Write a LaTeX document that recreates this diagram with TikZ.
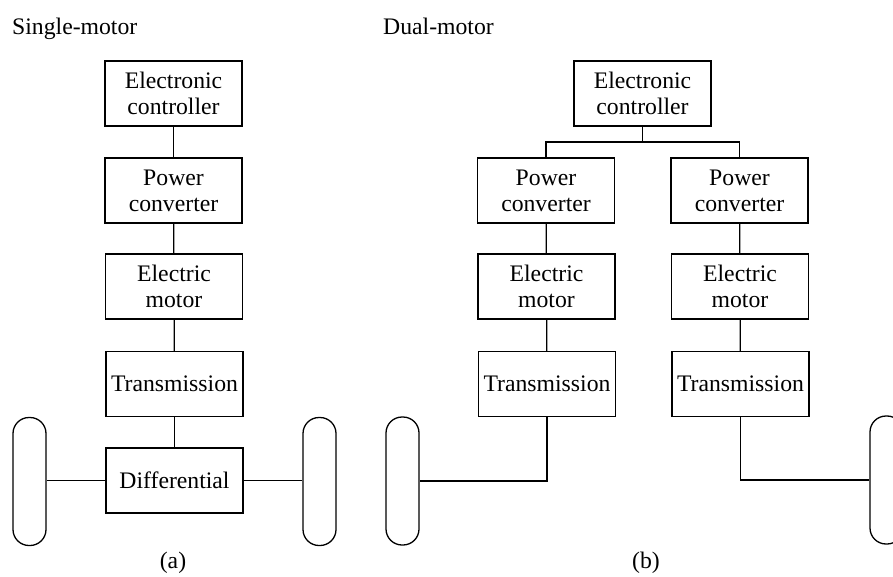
\documentclass[tikz,border=0pt]{standalone}
\usepackage{fontspec}
\setmainfont{Liberation Serif}
\begin{document}
\begin{tikzpicture}[x=1pt,y=-1pt,
  blk/.style={draw,line width=1.3pt,rectangle,minimum width=137pt,minimum height=65pt,inner sep=0pt,align=center,font=\fontsize{23.7}{26}\selectfont},
  wheel/.style={draw,line width=1.3pt,rectangle,rounded corners=16pt,minimum width=33pt,minimum height=128pt,inner sep=0pt},
  conn/.style={line width=1.3pt},
  lbl/.style={inner sep=0pt,font=\fontsize{23.7}{26}\selectfont}]
\useasboundingbox (0,0) rectangle (893,577);
\clip (0,0) rectangle (893,577);
% titles
\node[lbl,anchor=base west] (t1) at (12,35) {Single-motor};
\node[lbl,anchor=base west] (t2) at (383,35) {Dual-motor};
% (a) single motor
\node[blk] (ec1) at (173.5,93.5) {Electronic\\controller};
\node[blk] (pc1) at (173.5,190.5) {Power\\converter};
\node[blk] (em1) at (174,286.5) {Electric\\motor};
\node[blk] (tr1) at (174.5,384) {Transmission};
\node[blk] (df1) at (174.5,480.5) {Differential};
\node[wheel] (wl1) at (29.5,481.5) {};
\node[wheel] (wr1) at (319.5,481.5) {};
\draw[conn] (ec1) -- (pc1);
\draw[conn] (pc1) -- (em1);
\draw[conn] (em1) -- (tr1);
\draw[conn] (tr1) -- (df1);
\draw[conn] (df1.west) -- (df1.west -| wl1.east);
\draw[conn] (df1.east) -- (df1.east -| wr1.west);
\node[lbl] (la) at (173,563) {(a)};
% (b) dual motor
\node[blk] (ec2) at (642.5,93.5) {Electronic\\controller};
\node[blk] (pc2a) at (546,190.5) {Power\\converter};
\node[blk] (pc2b) at (739.5,190.5) {Power\\converter};
\node[blk] (em2a) at (546.5,286.5) {Electric\\motor};
\node[blk] (em2b) at (740,286.5) {Electric\\motor};
\node[blk] (tr2a) at (547,384) {Transmission};
\node[blk] (tr2b) at (740.5,384) {Transmission};
\node[wheel] (wl2) at (402.5,481) {};
\node[wheel] (wr2) at (886.5,480) {};
\coordinate (j) at (642.5,142);
\draw[conn] (ec2) -- (j);
\draw[conn] (pc2a.north) |- (j) -| (pc2b.north);
\draw[conn] (pc2a) -- (em2a);
\draw[conn] (pc2b) -- (em2b);
\draw[conn] (em2a) -- (tr2a);
\draw[conn] (em2b) -- (tr2b);
\draw[conn] (tr2a.south) |- (wl2.east);
\draw[conn] (tr2b.south) |- (wr2.west);
\node[lbl] (lb) at (646,563) {(b)};
\end{tikzpicture}
\end{document}
